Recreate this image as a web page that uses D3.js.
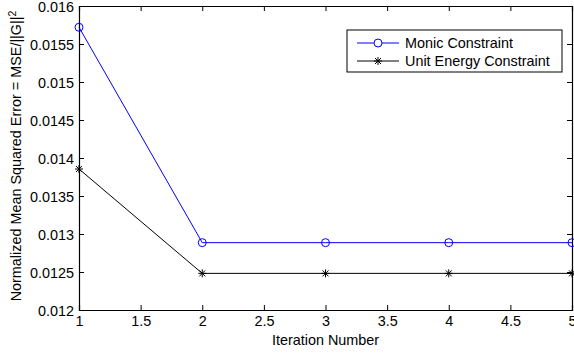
<!DOCTYPE html>
<html>
<head>
<meta charset="utf-8">
<script src="https://cdn.jsdelivr.net/npm/d3@7"></script>
<style>
  body { margin: 0; background: #fff; }
  svg { display: block; font-family: "Liberation Sans", Arial, sans-serif; }
  .axis text { font-size: 14.4px; fill: #000; }
  .axis path, .axis line { stroke: #000; }
</style>
</head>
<body>
<svg id="chart" width="574" height="354"></svg>
<script>
const iterations = [1, 2, 3, 4, 5];
const monic = [0.01572, 0.012886, 0.012886, 0.012886, 0.012886];
const unitEnergy = [0.013855, 0.012482, 0.012482, 0.012482, 0.012482];
const xTicks = [1, 1.5, 2, 2.5, 3, 3.5, 4, 4.5, 5];
const yTicks = [0.012, 0.0125, 0.013, 0.0135, 0.014, 0.0145, 0.015, 0.0155, 0.016];

const svg = d3.select("#chart");
const m = {left: 79, right: 2, top: 6, bottom: 44};
const w = 574 - m.left - m.right, h = 354 - m.top - m.bottom;

const x = d3.scaleLinear().domain([1, 5]).range([0, w]);
const y = d3.scaleLinear().domain([0.012, 0.016]).range([h, 0]);

const g = svg.append("g").attr("transform", `translate(${m.left},${m.top})`);

// axes, ticks pointing inward like matlab
g.append("g").attr("class", "axis").attr("transform", `translate(0,${h})`)
  .call(d3.axisBottom(x).tickValues(xTicks).tickSize(-5).tickPadding(6).tickFormat(d3.format("")));
g.append("g").attr("class", "axis")
  .call(d3.axisTop(x).tickValues(xTicks).tickSize(-5).tickFormat(""));
g.append("g").attr("class", "axis yleft")
  .call(d3.axisLeft(y).tickValues(yTicks).tickSize(-5).tickPadding(5).tickFormat(d3.format("")));
g.select(".yleft").selectAll("text").attr("dy", "0.36em");
g.append("g").attr("class", "axis").attr("transform", `translate(${w},0)`)
  .call(d3.axisRight(y).tickValues(yTicks).tickSize(-5).tickFormat(""));
g.selectAll(".axis path").attr("stroke-width", 1.2);

const line = d3.line().x(d => x(d[0])).y(d => y(d[1]));
const monicPts = iterations.map((it, i) => [it, monic[i]]);
const unitPts = iterations.map((it, i) => [it, unitEnergy[i]]);

g.append("path").attr("d", line(monicPts)).attr("fill", "none").attr("stroke", "#0000ff").attr("stroke-width", 1);
g.append("path").attr("d", line(unitPts)).attr("fill", "none").attr("stroke", "#000").attr("stroke-width", 1);

function star(sel, cx, cy, r) {
  const s = sel.append("g").attr("transform", `translate(${cx},${cy})`).attr("stroke", "#000").attr("stroke-width", 1);
  s.append("line").attr("x1", -r).attr("x2", r);
  s.append("line").attr("y1", -r).attr("y2", r);
  s.append("line").attr("x1", -r * 0.75).attr("y1", -r * 0.75).attr("x2", r * 0.75).attr("y2", r * 0.75);
  s.append("line").attr("x1", -r * 0.75).attr("y1", r * 0.75).attr("x2", r * 0.75).attr("y2", -r * 0.75);
}

g.selectAll("circle.mk").data(monicPts).enter().append("circle")
  .attr("cx", d => x(d[0])).attr("cy", d => y(d[1])).attr("r", 4)
  .attr("fill", "none").attr("stroke", "#0000ff").attr("stroke-width", 1);
unitPts.forEach(d => star(g, x(d[0]), y(d[1]), 4));

// labels
svg.append("text").attr("x", m.left + w / 2).attr("y", 345).attr("text-anchor", "middle")
  .attr("font-size", 14.4).text("Iteration Number");
const yl = svg.append("text").attr("transform", `translate(21,156) rotate(-90)`)
  .attr("text-anchor", "middle").attr("font-size", 14.4);
yl.append("tspan").text("Normalized Mean Squared Error = MSE/||G||");
yl.append("tspan").attr("dy", -5).attr("font-size", 10.5).text("2");

// legend
const lg = svg.append("g").attr("transform", "translate(347,30)");
lg.append("rect").attr("width", 215).attr("height", 42).attr("fill", "#fff").attr("stroke", "#000");
const items = [
  {name: "Monic Constraint", color: "#0000ff", mark: "circle"},
  {name: "Unit Energy Constraint", color: "#000", mark: "star"}
];
items.forEach((it, i) => {
  const yy = 13 + i * 18;
  lg.append("line").attr("x1", 10).attr("x2", 52).attr("y1", yy).attr("y2", yy).attr("stroke", it.color);
  if (it.mark === "circle") {
    lg.append("circle").attr("cx", 31).attr("cy", yy).attr("r", 4).attr("fill", "#fff").attr("stroke", it.color);
  } else {
    star(lg, 31, yy, 4);
  }
  lg.append("text").attr("x", 58).attr("y", yy + 5).attr("font-size", 14.4).text(it.name);
});
</script>
</body>
</html>
